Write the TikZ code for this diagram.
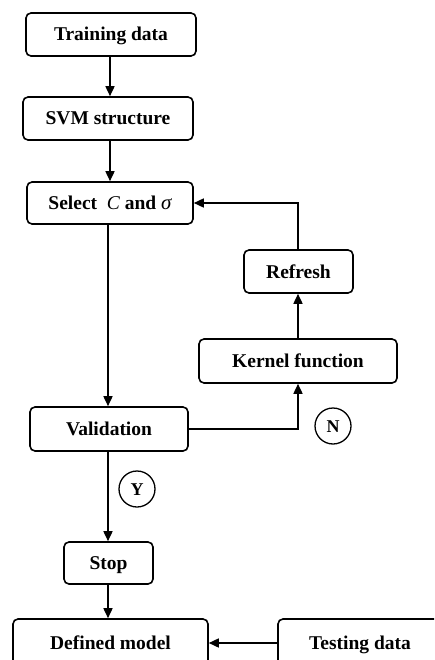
\documentclass[tikz,border=0pt]{standalone}
\usepackage{fontspec}
\setmainfont{Liberation Serif}
\usetikzlibrary{arrows.meta}
\begin{document}
\begin{tikzpicture}[x=1pt,y=-1pt,
  box/.style={draw,line width=1.6pt,rounded corners=5pt,font=\fontsize{19.5}{21}\selectfont\bfseries,inner sep=0pt,anchor=center,text height=13pt,text depth=0pt},
  lab/.style={draw,circle,line width=1.3pt,minimum size=36pt,inner sep=0pt,font=\fontsize{18}{20}\selectfont\bfseries,text height=12pt,text depth=0pt},
  arr/.style={line width=1.6pt,-{Triangle[length=10pt,width=9pt]}}]
\clip (0,0) rectangle (434,660);
\useasboundingbox (0,0) rectangle (434,660);
\node[box,minimum width=170pt,minimum height=43pt] (train) at (111,34.5) {Training data};
\node[box,minimum width=170pt,minimum height=43pt] (svm) at (108,118.5) {SVM structure};
\node[box,minimum width=166pt,minimum height=42pt] (sel) at (110,203) {Select\ \ {\mdseries\itshape C} and {\mdseries\itshape\fontsize{21}{21}\selectfont σ}};
\node[box,minimum width=109pt,minimum height=43pt] (ref) at (298.5,271.5) {Refresh};
\node[box,minimum width=198pt,minimum height=44pt] (ker) at (298,361) {Kernel function};
\node[box,minimum width=158pt,minimum height=44pt] (val) at (109,429) {Validation};
\node[box,minimum width=89pt,minimum height=42pt] (stop) at (108.5,563) {Stop};
\node[box,minimum width=195pt,minimum height=48pt] (def) at (110.5,643) {Defined model};
\node[box,minimum width=164pt,minimum height=48pt] (test) at (360,643) {Testing data};
\node[lab] (n) at (333,426) {N};
\node[lab] (y) at (137,489) {Y};
\coordinate (c1) at (110,0);
\coordinate (c2) at (108,0);
\draw[arr] (c1 |- train.south) -- (c1 |- svm.north);
\draw[arr] (c1 |- svm.south) -- (c1 |- sel.north);
\draw[arr] (c2 |- sel.south) -- (c2 |- val.north);
\draw[arr] (c2 |- val.south) -- (c2 |- stop.north);
\draw[arr] (c2 |- stop.south) -- (c2 |- def.north);
\draw[arr] (val.east) -- (ker.south |- val.east) -- (ker.south);
\draw[arr] (ker.north) -- (ref.south -| ker.north);
\draw[arr] (ker.north |- ref.north) -- (ker.north |- sel.east) -- (sel.east);
\draw[arr] (test.west) -- (def.east);
\end{tikzpicture}
\end{document}
